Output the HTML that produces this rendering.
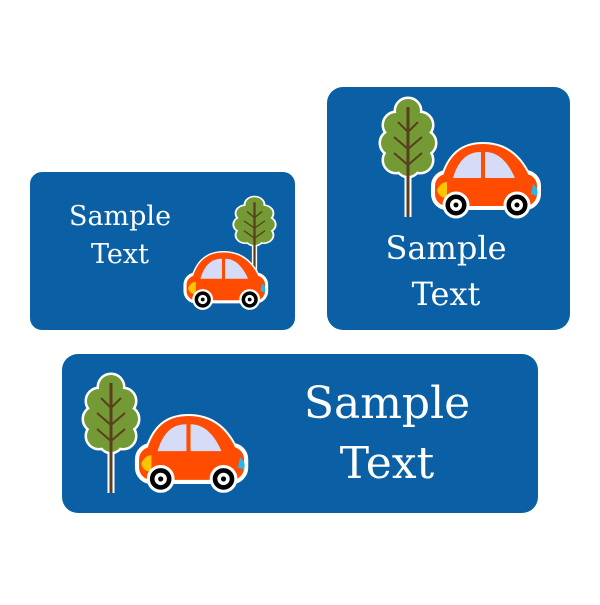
<!DOCTYPE html><html><head><style>body{margin:0;background:#fff}</style></head><body>
<svg width="600" height="600" viewBox="0 0 600 600" xmlns="http://www.w3.org/2000/svg">
<defs>
<g id="tree">
<line x1="30" y1="40" x2="30" y2="120" stroke="#fff" stroke-width="7"/>
<g fill="#739a34" stroke="#fff" stroke-width="3">
<circle cx="30" cy="14" r="13"/><circle cx="18" cy="28" r="13"/><circle cx="42" cy="28" r="13"/>
<circle cx="15" cy="46" r="13"/><circle cx="45" cy="46" r="13"/><circle cx="18" cy="63" r="13"/><circle cx="42" cy="63" r="13"/><circle cx="30" cy="68" r="12"/>
</g>
<g fill="#739a34"><circle cx="30" cy="14" r="12"/><circle cx="18" cy="28" r="12"/><circle cx="42" cy="28" r="12"/><circle cx="15" cy="46" r="12"/><circle cx="45" cy="46" r="12"/><circle cx="18" cy="63" r="12"/><circle cx="42" cy="63" r="12"/><circle cx="30" cy="68" r="11"/><circle cx="30" cy="45" r="18"/></g>
<g stroke="#5a3f1f" stroke-width="2" fill="none">
<line x1="30" y1="10" x2="30" y2="120" stroke-width="3"/>
<path d="M20 25L30 35L40 25M16 40L30 52L44 40M16 56L30 68L44 56"/>
</g>
</g>
<g id="car">
<path d="M10 34 C18 8 34 2 50 2 C70 2 86 12 96 34Z" fill="#ff4c00" stroke="#fff" stroke-width="4"/>
<rect x="0" y="30" width="106" height="36" rx="14" fill="#ff4c00" stroke="#fff" stroke-width="4"/>
<path d="M10 34 C18 8 34 2 50 2 C70 2 86 12 96 34Z" fill="#ff4c00"/>
<path d="M20 36 C26 16 36 10 48 10 L48 36Z M52 10 C64 10 74 18 82 36 L52 36Z" fill="#d6dcf8"/>
<path d="M4 48 Q8 40 14 40 L14 56 Q6 56 4 48Z" fill="#ffc400"/>
<path d="M100 42 Q106 46 104 54 L98 52Z" fill="#29b6e6"/>
<g><circle cx="23" cy="63" r="12" fill="#000" stroke="#fff" stroke-width="3"/><circle cx="23" cy="63" r="6" fill="#fff"/><circle cx="23" cy="63" r="2.5" fill="#000"/>
<circle cx="84" cy="63" r="12" fill="#000" stroke="#fff" stroke-width="3"/><circle cx="84" cy="63" r="6" fill="#fff"/><circle cx="84" cy="63" r="2.5" fill="#000"/></g>
</g>
</defs>
<rect x="30" y="172" width="265" height="158" rx="12" fill="#0b60a5"/>
<rect x="327" y="87" width="243" height="243" rx="16" fill="#0b60a5"/>
<rect x="62" y="354" width="476" height="159" rx="16" fill="#0b60a5"/>
<g font-family="'DejaVu Serif',serif" fill="#fff" text-anchor="middle">
<text x="120" y="225" font-size="27">Sample</text><text x="120" y="263" font-size="27">Text</text>
<text x="446" y="259" font-size="32">Sample</text><text x="446" y="305" font-size="32">Text</text>
<text x="387" y="418" font-size="44">Sample</text><text x="387" y="478" font-size="44">Text</text>
</g>
<use href="#tree" transform="translate(378,97)"/>
<use href="#car" transform="translate(433,142)"/>
<use href="#tree" transform="translate(232,196) scale(0.75,0.62)"/>
<use href="#car" transform="translate(185,251) scale(0.77)"/>
<use href="#tree" transform="translate(81,373)"/>
<use href="#car" transform="translate(137,414) scale(1.03)"/>
</svg>
</body></html>
